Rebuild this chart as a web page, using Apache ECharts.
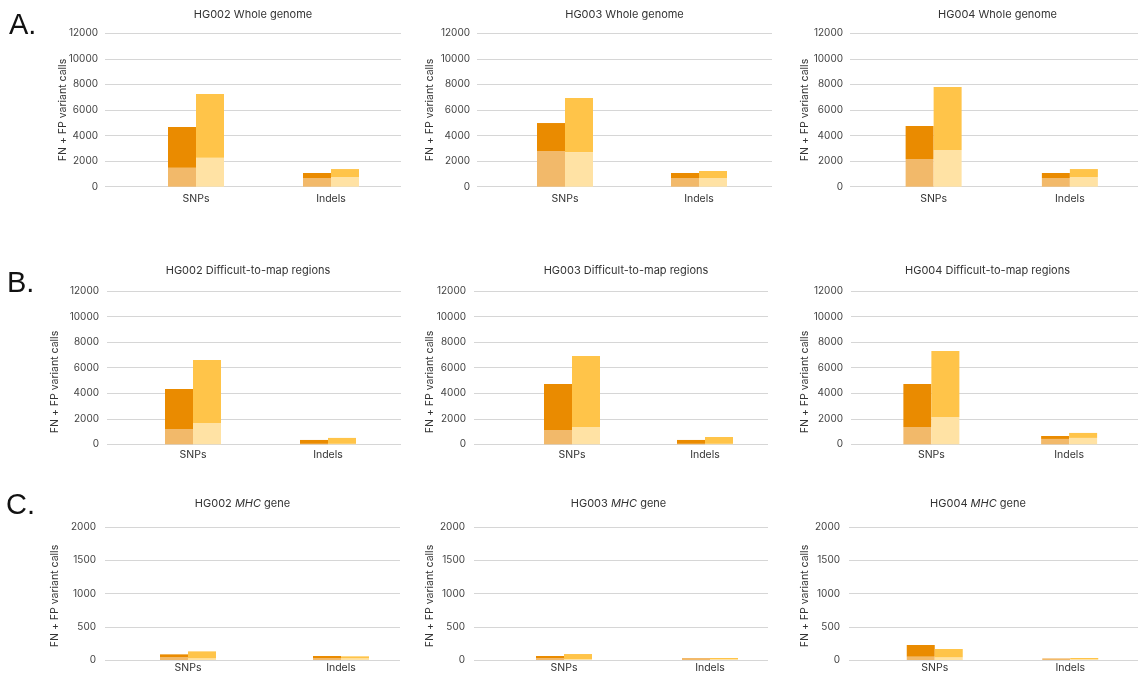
<!DOCTYPE html>
<html>
<head>
<meta charset="utf-8">
<script src="https://cdn.jsdelivr.net/npm/echarts@6/dist/echarts.min.js"></script>
<style>
  html, body { margin: 0; padding: 0; background: #ffffff; }
  #chart { width: 1138px; height: 675px; }
</style>
</head>
<body>
<div id="chart"></div>
<script>
// Categories on every panel
const categories = ['SNPs', 'Indels'];

// Panel order: HG002/HG003/HG004 whole genome, difficult-to-map regions, MHC gene
const samples = ['HG002', 'HG003', 'HG004'];
const regionNames = ['Whole genome', 'Difficult-to-map regions', 'MHC'];
const rowLetters = ['A.', 'B.', 'C.'];

// Y-axis scale per row
const rowMax = [12000, 12000, 2000];
const rowInterval = [2000, 2000, 500];

// Stacked segments, one value per panel (9 panels, row by row).
// First bar: light-orange base + dark-orange top; second bar: pale-yellow base + yellow top.
const snpBar1Base = [1490, 2790, 2170, 1200, 1120, 1360, 40, 30, 50];
const snpBar1Top  = [3180, 2190, 2580, 3130, 3600, 3360, 45, 30, 176];
const snpBar2Base = [2270, 2710, 2870, 1670, 1360, 2140, 25, 15, 40];
const snpBar2Top  = [4980, 4230, 4930, 4930, 5550, 5160, 105, 75, 126];

const indelBar1Base = [680, 680, 680, 40, 40, 420, 25, 30, 25];
const indelBar1Top  = [390, 390, 390, 300, 300, 230, 35, 0, 0];
const indelBar2Base = [760, 680, 760, 40, 40, 500, 25, 15, 15];
const indelBar2Top  = [620, 550, 620, 460, 530, 390, 30, 15, 15];

const colors = {
  bar1Base: '#F2B96A',
  bar1Top: '#EA8B00',
  bar2Base: '#FFE2A4',
  bar2Top: '#FFC449'
};

// Layout of each panel (pixels)
const rowTop = [33.3, 291, 527.3];
const rowBottom = [186.7, 444.3, 660];
// gridline span [start, end]
const frameSpan = [
  [105, 401], [477, 772], [850, 1150],
  [107, 401], [474, 768], [851, 1150],
  [105, 400], [474, 768], [849, 1150]
];
// bar area [left, width]
const plotSpan = [
  [128.5, 270], [498, 268], [865.5, 274],
  [125.5, 270], [505.5, 266], [862.5, 278],
  [111.5, 306], [491, 292], [867, 280]
];
const titlePos = [
  [253, 15], [624.5, 15], [997.5, 15],
  [248, 271], [626, 271], [987.5, 271],
  [242.5, 504], [618.5, 504], [978, 504]
];
const axisNamePos = [
  [63, 110], [430, 110], [805, 110],
  [55, 382], [430, 382], [805, 382],
  [55, 596], [430, 596], [805, 596]
];
const labelMargin = [7, 8, 9];
const catMargin = [7, 5, 2];

const FONT = 'Inter, "Noto Sans", sans-serif';

const grid = [], xAxis = [], yAxis = [], series = [], graphic = [];

for (let p = 0; p < 9; p++) {
  const row = Math.floor(p / 3);
  const col = p % 3;
  const top = rowTop[row];
  const height = rowBottom[row] - rowTop[row];

  // frame grid: value labels and gridlines
  const fi = grid.length;
  grid.push({ left: frameSpan[p][0], width: frameSpan[p][1] - frameSpan[p][0], top: top, height: height, containLabel: false });
  xAxis.push({ type: 'category', gridIndex: fi, data: categories, show: false });
  yAxis.push({
    type: 'value', gridIndex: fi, min: 0, max: rowMax[row], interval: rowInterval[row],
    axisLine: { show: false }, axisTick: { show: false },
    axisLabel: {
      color: '#444', fontSize: 10, fontFamily: FONT, margin: labelMargin[row],
      formatter: v => String(v)
    },
    splitLine: { lineStyle: { color: '#d6d6d6', width: 1 } }
  });

  // plot grid: category axis and bars
  const pi = grid.length;
  grid.push({ left: plotSpan[p][0], width: plotSpan[p][1], top: top, height: height, containLabel: false });
  xAxis.push({
    type: 'category', gridIndex: pi, data: categories,
    axisLine: { show: false }, axisTick: { show: false },
    axisLabel: { color: '#333', fontSize: 10.5, fontFamily: FONT, margin: catMargin[row] }
  });
  yAxis.push({ type: 'value', gridIndex: pi, min: 0, max: rowMax[row], show: false, splitLine: { show: false } });

  const seg = [
    ['bar1', snpBar1Base[p], indelBar1Base[p], colors.bar1Base],
    ['bar1', snpBar1Top[p], indelBar1Top[p], colors.bar1Top],
    ['bar2', snpBar2Base[p], indelBar2Base[p], colors.bar2Base],
    ['bar2', snpBar2Top[p], indelBar2Top[p], colors.bar2Top]
  ];
  seg.forEach(s => {
    series.push({
      type: 'bar', xAxisIndex: pi, yAxisIndex: pi,
      stack: 'p' + p + s[0],
      data: [s[1], s[2]],
      barWidth: 28, barGap: '0%',
      itemStyle: { color: s[3] },
      emphasis: { disabled: true },
      silent: true
    });
  });

  // panel title
  const sample = samples[col];
  const region = regionNames[row];
  let titleText;
  if (row === 2) {
    titleText = '{n|' + sample + ' }{i|' + region + '}{n| gene}';
  } else {
    titleText = '{n|' + sample + ' ' + region + '}';
  }
  graphic.push({
    type: 'text', x: titlePos[p][0], y: titlePos[p][1],
    style: {
      text: titleText, align: 'center', verticalAlign: 'middle',
      rich: {
        n: { fontSize: 11, fontFamily: FONT, fill: '#333' },
        i: { fontSize: 11, fontFamily: FONT, fontStyle: 'italic', fill: '#333' }
      }
    }
  });

  // y-axis name
  graphic.push({
    type: 'text', x: axisNamePos[p][0], y: axisNamePos[p][1], rotation: Math.PI / 2,
    style: {
      text: 'FN + FP variant calls', align: 'center', verticalAlign: 'middle',
      fontSize: 10.5, fontFamily: FONT, fill: '#333'
    }
  });
}

// row letters
const letterPos = [[9, 26], [7, 284], [6, 506]];
rowLetters.forEach((t, i) => {
  graphic.push({
    type: 'text', x: letterPos[i][0], y: letterPos[i][1],
    style: { text: t, align: 'left', verticalAlign: 'middle', fontSize: 29, fontFamily: '"Liberation Sans", Arial, sans-serif', fill: '#111' }
  });
});

const chart = echarts.init(document.getElementById('chart'), null, { renderer: 'canvas' });
chart.setOption({
  animation: false,
  backgroundColor: '#ffffff',
  grid: grid,
  xAxis: xAxis,
  yAxis: yAxis,
  series: series,
  graphic: graphic
});
</script>
</body>
</html>
